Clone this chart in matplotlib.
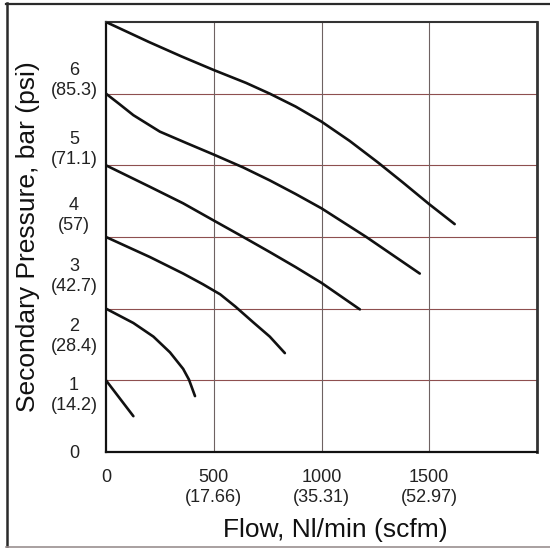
import matplotlib
matplotlib.use("Agg")
import matplotlib.pyplot as plt
from matplotlib.lines import Line2D

plt.rcParams['font.family'] = ['Liberation Sans', 'DejaVu Sans']

# ---- data ----
flow_6 = [0, 200, 350, 500, 650, 760, 880, 1000, 1131, 1262, 1378, 1499, 1618]
bar_6 = [6.0, 5.72, 5.52, 5.33, 5.15, 5.00, 4.82, 4.61, 4.34, 4.04, 3.76, 3.46, 3.18]

flow_5 = [0, 60, 127, 250, 374, 500, 637, 760, 880, 1000, 1208, 1456]
bar_5 = [5.0, 4.86, 4.70, 4.47, 4.31, 4.15, 3.97, 3.79, 3.60, 3.40, 3.00, 2.49]

flow_4 = [0, 204, 358, 500, 637, 760, 880, 1000, 1178]
bar_4 = [4.0, 3.70, 3.47, 3.23, 3.00, 2.79, 2.58, 2.36, 1.99]

flow_3 = [0, 204, 358, 450, 530, 600, 683, 760, 830]
bar_3 = [3.0, 2.72, 2.49, 2.34, 2.20, 2.03, 1.81, 1.61, 1.38]

flow_2 = [0, 127, 220, 297, 358, 385, 413]
bar_2 = [2.0, 1.80, 1.61, 1.39, 1.16, 1.01, 0.78]

flow_1 = [0, 127]
bar_1 = [1.0, 0.50]

x_ticks = [0, 500, 1000, 1500]
x_tick_labels = ["0", "500\n(17.66)", "1000\n(35.31)", "1500\n(52.97)"]
y_grid = [1, 2, 3, 4, 5]
y_tick_labels = ["0", "1\n(14.2)", "2\n(28.4)", "3\n(42.7)", "4\n(57)", "5\n(71.1)", "6\n(85.3)"]
x_label = "Flow, Nl/min (scfm)"
y_label = "Secondary Pressure, bar (psi)"

# ---- figure ----
fig = plt.figure(figsize=(5.5, 5.48), dpi=100)
ax = fig.add_axes([106/550, 1-452/548, (537-106)/550, (452-22)/548])

curves = [(flow_6, bar_6), (flow_5, bar_5), (flow_4, bar_4),
          (flow_3, bar_3), (flow_2, bar_2), (flow_1, bar_1)]
for fx, by in curves:
    ax.plot(fx, by, color='#111111', lw=1.9, solid_capstyle='round',
            solid_joinstyle='round', zorder=3)

ax.set_xlim(0, 2000)
ax.set_ylim(0, 6)

# grid
for g in y_grid:
    ax.axhline(g, color='#8e4f4f', lw=0.8, zorder=1, snap=True)
for g in x_ticks[1:]:
    ax.axvline(g, color='#6e6262', lw=0.8, zorder=1, snap=True)

# ticks
ax.set_xticks(x_ticks)
ax.set_xticklabels(x_tick_labels, fontsize=13, color='#222222', linespacing=1.25)
ax.tick_params(axis='x', length=0, pad=12)

label_pos = [0.0, 0.84, 1.66, 2.50, 3.35, 4.27, 5.23]
ax.set_yticks(label_pos)
ax.set_yticklabels(y_tick_labels, fontsize=13, color='#222222', linespacing=1.25,
                   ha='center')
ax.tick_params(axis='y', length=0, pad=23)

ax.set_xlabel(x_label, fontsize=19, color='#111111', va='center')
ax.xaxis.set_label_coords(0.531, (452-530)/(452-22))
ax.set_ylabel(y_label, fontsize=19, color='#111111', va='center')
ax.yaxis.set_label_coords((28-106)/(537-106), 0.5)

for side in ['left', 'bottom']:
    ax.spines[side].set_color('#111111')
    ax.spines[side].set_linewidth(1.6)
ax.spines['top'].set_color('#333333')
ax.spines['top'].set_linewidth(1.5)
ax.spines['right'].set_color('#333333')
ax.spines['right'].set_linewidth(2.0)

# outer frame (top, left, bottom lines)
fig.add_artist(Line2D([6/550, 1.0], [1-4/548, 1-4/548], color='#2a2a2a', lw=1.6,
                      transform=fig.transFigure))
fig.add_artist(Line2D([6.5/550, 6.5/550], [1-3/548, 1-547/548], color='#2a2a2a', lw=1.8,
                      transform=fig.transFigure))
fig.add_artist(Line2D([6/550, 1.0], [1-546.5/548, 1-546.5/548], color='#9a9090', lw=1.2,
                      transform=fig.transFigure))

fig.savefig("out.png", dpi=100)
